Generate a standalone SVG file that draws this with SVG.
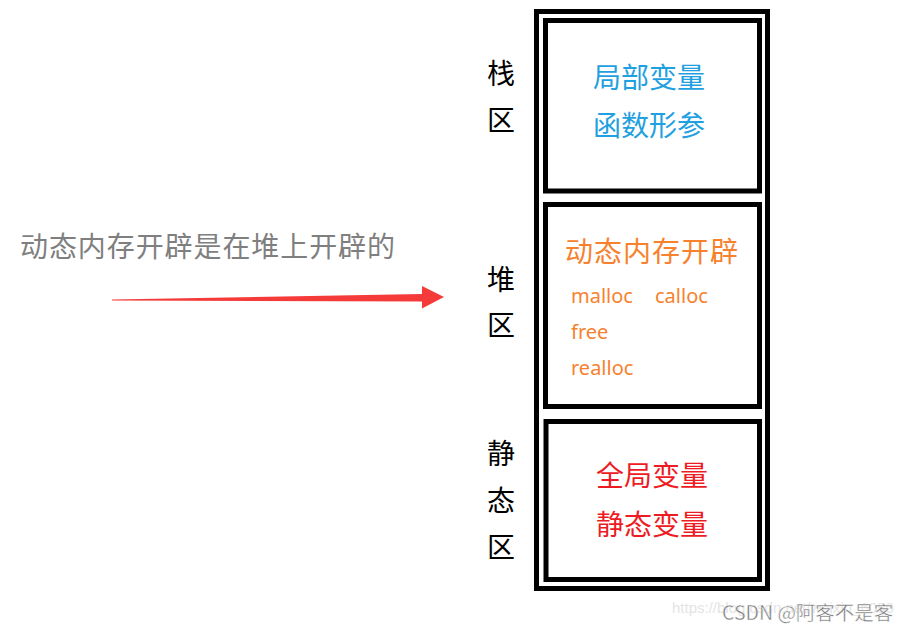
<svg xmlns="http://www.w3.org/2000/svg" width="908" height="633" viewBox="0 0 908 633">
<style>
.box{fill:none;stroke:#000;stroke-width:5}
.cjk{font-family:"Noto Sans CJK SC","Noto Sans",sans-serif}
.big{font-size:28px}
.lbl{fill:#000;text-anchor:middle}
.blue{fill:#1fa0e0;text-anchor:middle}
.orange{fill:#f7812d}
.red{fill:#ed1c24;text-anchor:middle}
.fn{font-family:"Noto Sans","Open Sans",sans-serif;font-size:20px;fill:#f7812d}
</style>
<rect width="908" height="633" fill="#fff"/>
<g id="memory">
<rect class="box" x="536.5" y="11.5" width="231" height="577"/>
</g>
<g id="stack">
<rect class="box" x="545.5" y="20.5" width="214" height="170.5"/>
<text class="cjk big blue" x="649" y="88">局部变量</text>
<text class="cjk big blue" x="649" y="136">函数形参</text>
</g>
<g id="heap">
<rect class="box" x="545.5" y="204.5" width="214" height="202"/>
<text class="cjk big orange" x="565" y="262" textLength="173">动态内存开辟</text>
<text class="fn" x="571" y="303">malloc</text>
<text class="fn" x="655" y="303">calloc</text>
<text class="fn" x="571" y="339">free</text>
<text class="fn" x="571" y="375">realloc</text>
</g>
<g id="static">
<rect class="box" x="546" y="421.5" width="213.5" height="158"/>
<text class="cjk big red" x="652" y="486">全局变量</text>
<text class="cjk big red" x="652" y="535">静态变量</text>
</g>
<g id="labels">
<text class="cjk big lbl" x="501" y="84">栈</text>
<text class="cjk big lbl" x="501" y="131">区</text>
<text class="cjk big lbl" x="501" y="290">堆</text>
<text class="cjk big lbl" x="501" y="336">区</text>
<text class="cjk big lbl" x="501" y="464">静</text>
<text class="cjk big lbl" x="501" y="511">态</text>
<text class="cjk big lbl" x="501" y="558">区</text>
</g>
<g id="note">
<text class="cjk big" x="20" y="257" fill="#7f7f7f" textLength="375">动态内存开辟是在堆上开辟的</text>
</g>
<g id="connectors">
<polygon points="112,299.5 422,294 422,286 444,297 422,308.5 422,301.5 112,300.5" fill="#f53a3a"/>
</g>
<g id="watermark">
<text x="672" y="613" font-family="Liberation Sans,sans-serif" font-size="15" fill="#e4e4e4">https://blog.csdn.net/weixin_6050</text>
<text x="722" y="620" class="cjk" font-size="19.5" fill="#7a7a7a" stroke="#fff" stroke-width="0.4">CSDN @阿客不是客</text>
</g>
</svg>
